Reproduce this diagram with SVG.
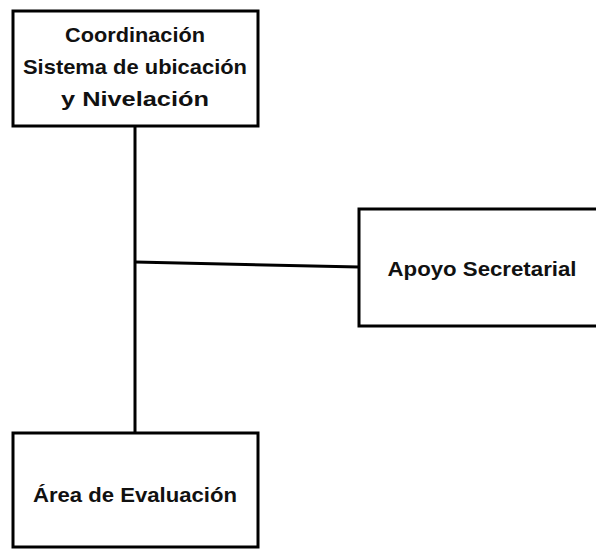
<svg xmlns="http://www.w3.org/2000/svg" width="596" height="549" viewBox="0 0 596 549">
<style>
.box{fill:#fff;stroke:#000;stroke-width:3}
.lbl{font-family:"Liberation Sans",Arial,sans-serif;font-weight:bold;font-size:21px;fill:#111;text-anchor:middle}
.conn{stroke:#000;stroke-width:3;fill:none}
</style>
<rect width="596" height="549" fill="#fff"/>
<g id="connectors">
<line class="conn" x1="135" y1="126" x2="135" y2="433"/>
<line class="conn" x1="135" y1="262" x2="359" y2="267"/>
</g>
<g id="node-coordinacion">
<rect class="box" x="13" y="11" width="245" height="115"/>
<text class="lbl" x="135" y="42" textLength="140" lengthAdjust="spacingAndGlyphs">Coordinación</text>
<text class="lbl" x="135" y="74" textLength="224" lengthAdjust="spacingAndGlyphs">Sistema de ubicación</text>
<text class="lbl" x="135" y="106" textLength="148" lengthAdjust="spacingAndGlyphs">y Nivelación</text>
</g>
<g id="node-apoyo">
<rect class="box" x="359" y="209" width="250" height="117"/>
<text class="lbl" x="482" y="276" textLength="189" lengthAdjust="spacingAndGlyphs">Apoyo Secretarial</text>
</g>
<g id="node-area">
<rect class="box" x="13" y="433" width="245" height="114"/>
<text class="lbl" x="135" y="502" textLength="204" lengthAdjust="spacingAndGlyphs">Área de Evaluación</text>
</g>
</svg>
